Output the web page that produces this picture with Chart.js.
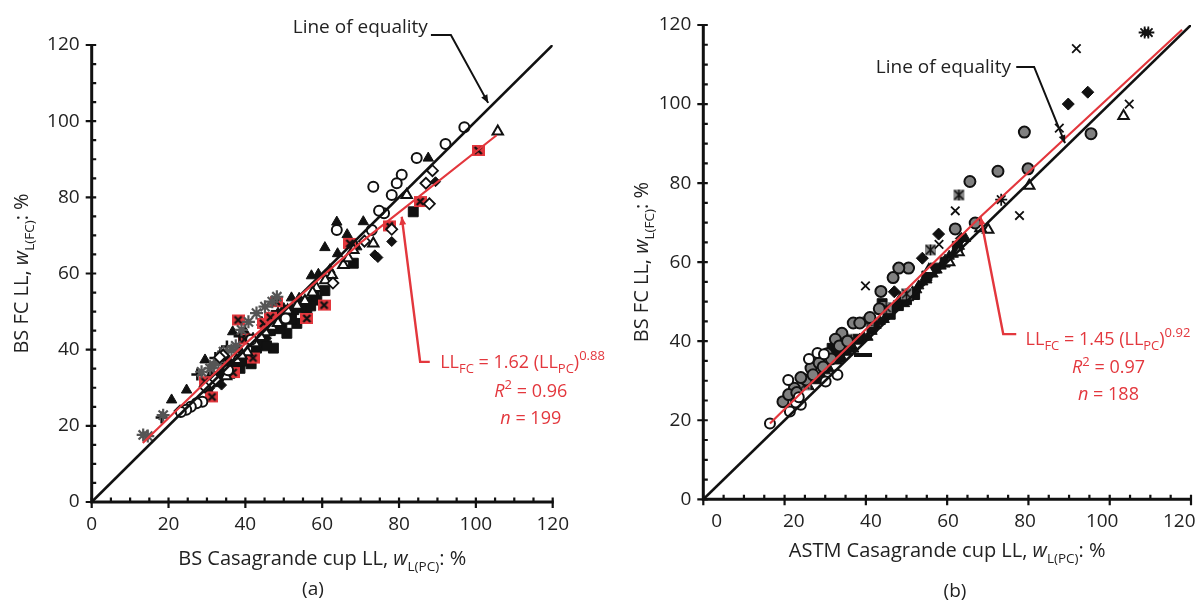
<!DOCTYPE html>
<html>
<head>
<meta charset="utf-8">
<script src="https://cdn.jsdelivr.net/npm/chart.js@4.4.1/dist/chart.umd.min.js"></script>
<style>
html, body { margin: 0; padding: 0; background: #fff; }
#wrap { position: relative; width: 1204px; height: 601px; overflow: hidden; background: #fff; }
#wrap canvas { position: absolute; top: 0; }
#chartA { left: 0; }
#chartB { left: 600px; }
</style>
</head>
<body>
<div id="wrap">
  <canvas id="chartA" width="640" height="601"></canvas>
  <canvas id="chartB" width="604" height="601"></canvas>
</div>
<script>
const FONT = '"Open Sans", "DejaVu Sans", sans-serif';
const INK = '#111';
const RED = '#e3373d';

const tickValues = [0, 20, 40, 60, 80, 100, 120];

// =========================
// PANEL (a) : BS cup (x) vs BS fall cone (y), [x, y]
// =========================
const aEquality = [[0, 0], [120, 120]];
const aFit = [[13.3, 15.5], [40, 41.6], [70, 68.1], [105.4, 96.3]];
const aCircleOpen = [[97.0, 98.4], [92.1, 94.0], [84.6, 90.3], [80.7, 85.9], [79.4, 83.7], [78.1, 80.6], [73.3, 82.8],
  [76.1, 75.8], [74.8, 76.5], [72.9, 71.4], [63.8, 71.4], [28.8, 26.3], [27.3, 25.9], [25.8, 25.0], [24.6, 24.2],
  [23.2, 23.6], [35.5, 34.6], [41.5, 42.6], [50.5, 48.2]];
const aTriFill = [[87.6, 90.3], [60.7, 66.8], [70.7, 73.6], [36.7, 44.7], [29.5, 37.3], [24.7, 29.4], [20.8, 26.8],
  [63.8, 73.5], [66.5, 70.2], [33.6, 39.0], [40.0, 44.5], [44.3, 47.2], [52.0, 53.6], [57.2, 59.4], [31.0, 33.5],
  [64.0, 65.2], [48.5, 49.6], [69.0, 67.0], [35.5, 37.5], [38.5, 40.0], [42.0, 43.0], [46.0, 47.5], [50.0, 50.8],
  [54.0, 53.5], [59.0, 59.8], [62.0, 61.0]];
const aTriOpen = [[105.7, 97.3], [82.0, 80.6], [73.3, 67.9], [68.1, 66.2], [65.5, 62.2], [62.5, 59.6], [60.8, 58.2],
  [37.7, 37.3], [42.5, 41.7], [46.9, 46.0], [35.0, 33.0], [40.5, 39.3], [51.0, 50.3], [58.5, 56.2], [66.8, 64.0],
  [45.2, 44.6], [55.5, 52.8], [39.0, 38.5], [44.0, 43.3], [48.5, 47.0], [53.5, 51.5], [57.5, 55.0]];
const aDiamondOpen = [[88.7, 87.0], [87.0, 83.7], [87.9, 78.3], [78.1, 71.6], [23.0, 23.9], [30.8, 31.0], [32.2, 32.2],
  [29.5, 30.2], [34.2, 38.5], [33.3, 38.0], [62.8, 57.5], [71.0, 68.5]];
const aDiamondFill = [[89.5, 84.1], [78.1, 68.4], [73.7, 64.9], [74.5, 64.2], [33.8, 30.7], [30.8, 30.0], [45.5, 43.0]];
const aSquareFill = [[83.7, 76.2], [68.1, 62.7], [60.7, 55.5], [57.9, 53.9], [56.0, 52.5], [54.2, 51.7], [52.6, 50.5],
  [50.8, 44.3], [53.4, 46.9], [56.0, 50.4], [58.6, 53.0], [47.3, 40.4], [42.9, 40.4], [38.6, 35.1], [36.0, 33.8],
  [32.5, 31.6], [30.2, 30.0], [34.5, 33.5], [40.5, 38.3], [44.5, 42.0], [46.5, 45.0], [49.5, 47.0], [48.0, 49.0],
  [51.0, 49.0], [41.5, 36.3], [37.5, 36.0], [39.5, 37.0], [43.5, 41.5], [45.5, 41.0], [49.0, 45.5], [52.0, 48.0],
  [55.0, 51.0], [57.0, 51.5], [33.0, 33.0], [35.0, 35.5]];
const aRedBox = [[100.6, 92.3], [67.2, 67.9], [60.5, 51.7], [56.0, 48.2], [38.1, 47.8], [31.3, 27.6], [29.5, 31.6],
  [44.7, 46.9], [48.1, 52.6], [85.5, 78.9], [77.5, 72.5], [46.5, 48.5], [39.8, 42.8], [42.0, 37.8], [36.8, 34.0]];
const aStar = [[13.4, 17.6], [14.6, 17.3], [18.6, 22.8], [28.6, 34.2], [30.8, 35.1], [33.0, 36.8], [34.3, 39.5],
  [36.4, 39.9], [39.0, 45.2], [40.8, 47.3], [42.9, 49.6], [45.1, 51.3], [48.2, 53.9], [31.8, 36.0], [37.5, 41.0],
  [47.0, 52.6]];
const aPlus = [[18.2, 22.2], [32.2, 37.8], [35.2, 40.8], [38.5, 43.5], [27.5, 33.5]];

// =========================
// PANEL (b) : ASTM cup (x) vs BS fall cone (y), [x, y]
// =========================
const bEquality = [[0, 0], [120, 120]];
const bFit = [[16.4, 19.2], [68.2, 71.5], [117.8, 118.8]];
const bCircleGray = [[79.0, 92.9], [95.4, 92.5], [72.5, 83.0], [79.9, 83.6], [65.6, 80.4], [62.0, 68.4], [66.9, 69.9],
  [50.5, 58.5], [48.1, 58.5], [46.7, 56.1], [43.7, 52.6], [43.3, 48.2], [36.9, 44.6], [34.1, 42.0], [26.5, 33.2],
  [25.3, 30.2], [22.4, 28.1], [19.6, 24.7], [28.5, 34.5], [30.5, 36.8], [32.5, 40.5], [38.5, 44.6], [41.0, 46.0],
  [24.0, 30.8], [27.0, 31.5], [21.0, 26.5], [29.5, 33.5], [31.5, 35.5], [33.5, 38.8], [35.5, 40.0], [23.0, 27.0]];
const bCircleOpen = [[16.4, 19.2], [20.9, 30.2], [21.3, 22.2], [24.0, 23.9], [22.8, 24.5], [28.1, 37.0], [29.7, 36.7],
  [30.1, 29.8], [33.0, 31.5], [26.0, 35.5], [23.5, 25.8]];
const bDiamondFill = [[94.6, 103.0], [89.8, 100.0], [57.9, 67.1], [53.9, 61.0], [47.0, 52.5], [63.5, 66.0]];
const bCross = [[91.8, 114.0], [104.8, 100.0], [87.6, 93.9], [77.8, 71.8], [62.0, 73.0], [39.9, 54.0], [58.0, 64.5]];
const bAsterisk = [[108.6, 118.1], [109.5, 118.1], [73.3, 75.8]];
const bTriOpen = [[103.4, 97.0], [80.2, 79.3], [70.1, 68.2], [68.2, 68.6], [60.5, 60.0], [55.5, 58.0], [62.8, 62.5]];
const bStarBox = [[62.9, 77.0], [55.9, 63.1], [35.5, 40.5], [45.0, 48.5], [40.5, 45.0], [25.0, 29.0], [50.0, 52.0]];
const bSquareFill = [[31.7, 38.2], [36.0, 39.5], [41.5, 43.5], [46.0, 46.8], [52.0, 51.8], [55.0, 56.5], [59.5, 60.0],
  [44.0, 49.5], [57.0, 58.5], [62.5, 64.0], [33.5, 36.0], [38.0, 40.5], [48.0, 49.0], [50.0, 50.5]];
const bTriFill = [[34.0, 36.0], [37.0, 38.0], [38.5, 40.5], [40.5, 41.0], [42.5, 44.0], [47.0, 48.5], [49.5, 49.5],
  [51.5, 52.5], [53.0, 54.0], [56.5, 57.0], [58.5, 59.0], [60.5, 61.5], [61.5, 62.0], [63.0, 64.0], [64.5, 66.0],
  [29.0, 31.5], [27.5, 30.0], [31.0, 33.0], [26.0, 28.5], [44.5, 45.5], [48.5, 51.0], [55.0, 55.5], [33.0, 35.0],
  [35.5, 37.2], [39.5, 41.0], [41.5, 42.5], [43.5, 45.0], [45.5, 47.0], [50.5, 51.0], [52.5, 53.0], [54.0, 55.0],
  [57.5, 58.0], [59.5, 60.5], [36.5, 39.0], [30.0, 32.5], [28.0, 30.5]];
const bDash = [[39.3, 36.5]];

// =========================
// helpers
// =========================
const pts = a => a.map(([x, y]) => ({x, y}));

function marker(size, draw) {
  const c = document.createElement('canvas');
  c.width = c.height = size;
  draw(c.getContext('2d'), size);
  return c;
}
const redBox = marker(13, (g, s) => {
  g.fillStyle = RED; g.fillRect(0, 1, s, s - 2);
  g.strokeStyle = INK; g.lineWidth = 2.4; g.beginPath();
  g.moveTo(3, 3); g.lineTo(s - 3, s - 3); g.moveTo(s - 3, 3); g.lineTo(3, s - 3); g.stroke();
});
const grayStarBox = marker(13, (g, s) => {
  g.fillStyle = '#8a8a8a'; g.fillRect(1, 1, s - 2, s - 2);
  g.strokeStyle = INK; g.lineWidth = 1.6; g.beginPath();
  g.moveTo(2, 2); g.lineTo(s - 2, s - 2); g.moveTo(s - 2, 2); g.lineTo(2, s - 2);
  g.moveTo(s / 2, 1); g.lineTo(s / 2, s - 1); g.stroke();
});

function series(data, style) {
  return Object.assign({data: pts(data), showLine: false, order: 3, xAxisID: 'x', yAxisID: 'y'}, style);
}
function line(data, color, width, order) {
  return {data: pts(data), showLine: true, borderColor: color, borderWidth: width, pointRadius: 0,
    order, xAxisID: 'x', yAxisID: 'y'};
}

// text made of runs: [text, kind] kind = n | i | sub | sup
function richText(ctx, x, y, runs, align, size, small) {
  const parts = runs.map(([t, k]) => {
    const sz = (k === 'sub' || k === 'sup') ? small : size;
    const font = (k === 'i' ? 'italic ' : '') + sz + 'px ' + FONT;
    ctx.font = font;
    const w = ctx.measureText(t).width;
    return {t, font, w, dy: k === 'sub' ? size * 0.3 : k === 'sup' ? -size * 0.42 : 0};
  });
  const total = parts.reduce((s, p) => s + p.w, 0);
  let cx = align === 'center' ? x - total / 2 : align === 'right' ? x - total : x;
  ctx.textAlign = 'left';
  ctx.textBaseline = 'alphabetic';
  parts.forEach(p => { ctx.font = p.font; ctx.fillText(p.t, cx, y + p.dy); cx += p.w; });
}

function arrowHead(ctx, from, to, len, half) {
  const a = Math.atan2(to[1] - from[1], to[0] - from[0]);
  ctx.beginPath();
  ctx.moveTo(to[0], to[1]);
  ctx.lineTo(to[0] - len * Math.cos(a) + half * Math.sin(a), to[1] - len * Math.sin(a) - half * Math.cos(a));
  ctx.lineTo(to[0] - len * Math.cos(a) - half * Math.sin(a), to[1] - len * Math.sin(a) + half * Math.cos(a));
  ctx.closePath();
  ctx.fill();
}

function leader(ctx, P, path, color, width) {
  const p = path.map(P);
  ctx.strokeStyle = color; ctx.fillStyle = color; ctx.lineWidth = width;
  ctx.lineJoin = 'miter';
  ctx.beginPath();
  p.forEach((q, i) => i ? ctx.lineTo(q[0], q[1]) : ctx.moveTo(q[0], q[1]));
  ctx.stroke();
  arrowHead(ctx, p[p.length - 2], p[p.length - 1], 8, 3.5);
}

const decor = {
  id: 'decor',
  afterDraw(chart, args, o) {
    const {ctx, chartArea: ca, scales: {x, y}} = chart;
    const P = p => [x.getPixelForValue(p[0]), y.getPixelForValue(p[1])];
    ctx.save();

    // axes and ticks
    ctx.strokeStyle = INK; ctx.lineCap = 'butt';
    ctx.lineWidth = 3;
    ctx.beginPath();
    ctx.moveTo(ca.left, ca.top - 1); ctx.lineTo(ca.left, ca.bottom + 1.5);
    ctx.moveTo(ca.left - 1.5, ca.bottom); ctx.lineTo(ca.right + 1, ca.bottom);
    ctx.stroke();
    ctx.lineWidth = 2.2;
    ctx.beginPath();
    for (let v = 0; v <= 120; v += 5) {
      const major = v % 20 === 0;
      const px = x.getPixelForValue(v), py = y.getPixelForValue(v);
      ctx.moveTo(px, ca.bottom + (major ? 6 : 0)); ctx.lineTo(px, ca.bottom - 4.5);
      ctx.moveTo(ca.left - (major ? 6 : 0), py); ctx.lineTo(ca.left + 4.5, py);
    }
    ctx.stroke();

    // line of equality label
    ctx.fillStyle = '#222';
    richText(ctx, P(o.eqText)[0], P(o.eqText)[1], [['Line of equality', 'n']], 'right', 19, 13);
    leader(ctx, P, o.eqLeader, INK, 2);

    // fitted relation
    leader(ctx, P, o.fitLeader, RED, 2.4);
    ctx.fillStyle = RED;
    o.fitText.forEach(t => {
      const q = P(t.at);
      richText(ctx, q[0], q[1], t.runs, t.align, 18, 13);
    });

    // axis titles
    ctx.fillStyle = '#222';
    richText(ctx, (ca.left + ca.right) / 2, o.xTitleY, o.xTitle, 'center', 20, 13.5);
    ctx.save();
    ctx.translate(ca.left + o.yTitleDx, (ca.top + ca.bottom) / 2);
    ctx.rotate(-Math.PI / 2);
    richText(ctx, 0, 0, [['BS FC LL, ', 'n'], ['w', 'i'], ['L(FC)', 'sub'], [': %', 'n']], 'center', 20, 13.5);
    ctx.restore();
    richText(ctx, o.panel.x, o.panel.y, [[o.panel.text, 'n']], 'center', 19, 13);

    ctx.restore();
  }
};

const tickFont = {family: FONT, size: 19};
function yScale(width) {
  return {
    type: 'linear', min: 0, max: 120,
    grid: {display: false, drawTicks: false}, border: {display: false},
    afterBuildTicks: s => { s.ticks = tickValues.map(v => ({value: v})); },
    ticks: {color: '#222', font: tickFont, padding: 12},
    afterFit: s => { s.width = width; s.paddingTop = 0; s.paddingBottom = 0; }
  };
}
function xScale(min, max, height, showLabels) {
  return {
    type: 'linear', axis: 'x', position: 'bottom', min, max,
    grid: {display: false, drawTicks: false}, border: {display: false},
    afterBuildTicks: s => { s.ticks = tickValues.map(v => ({value: v})); },
    ticks: {display: showLabels, color: '#222', font: tickFont, padding: 11},
    afterFit: s => { s.height = height; s.paddingLeft = 0; s.paddingRight = 0; }
  };
}

const baseOptions = {
  responsive: false,
  animation: false,
  events: [],
  plugins: {legend: {display: false}, tooltip: {enabled: false}}
};

// =========================
// CHART (a)
// =========================
new Chart(document.getElementById('chartA'), {
  type: 'scatter',
  data: {datasets: [
    line(aFit, RED, 2.2, 0),
    line(aEquality, INK, 2.6, 1),
    series(aCircleOpen, {pointStyle: 'circle', pointRadius: 5, backgroundColor: '#fff', borderColor: INK, borderWidth: 2}),
    series(aDiamondOpen, {pointStyle: 'rectRot', pointRadius: 5.5, backgroundColor: '#fff', borderColor: INK, borderWidth: 1.8}),
    series(aTriOpen, {pointStyle: 'triangle', pointRadius: 6, backgroundColor: '#fff', borderColor: INK, borderWidth: 2}),
    series(aStar, {pointStyle: 'star', pointRadius: 6.5, borderColor: '#555', borderWidth: 2.2}),
    series(aPlus, {pointStyle: 'cross', pointRadius: 6, borderColor: INK, borderWidth: 2.5}),
    series(aRedBox, {pointStyle: redBox}),
    series(aSquareFill, {pointStyle: 'rect', pointRadius: 7, backgroundColor: INK, borderColor: INK, borderWidth: 1}),
    series(aDiamondFill, {pointStyle: 'rectRot', pointRadius: 5, backgroundColor: INK, borderColor: INK, borderWidth: 1}),
    series(aTriFill, {pointStyle: 'triangle', pointRadius: 6, backgroundColor: INK, borderColor: INK, borderWidth: 1})
  ]},
  options: Object.assign({}, baseOptions, {
    layout: {padding: {left: 0, right: 87.3, top: 45, bottom: 0}},
    scales: {x: xScale(0, 120, 99, true), y: yScale(91.7)},
    plugins: Object.assign({}, baseOptions.plugins, {decor: {
      eqText: [87.5, 123.2],
      eqLeader: [[88.3, 122.6], [93.5, 122.6], [103.2, 104.8]],
      fitLeader: [[88.0, 36.8], [85.5, 36.8], [80.7, 74.9]],
      fitText: [
        {at: [90.7, 35.3], align: 'left', runs: [['LL', 'n'], ['FC', 'sub'], [' = 1.62 (LL', 'n'], ['PC', 'sub'], [')', 'n'], ['0.88', 'sup']]},
        {at: [114.3, 27.6], align: 'center', runs: [['R', 'i'], ['2', 'sup'], [' = 0.96', 'n']]},
        {at: [114.3, 20.5], align: 'center', runs: [['n', 'i'], [' = 199', 'n']]}
      ],
      xTitle: [['BS Casagrande cup LL, ', 'n'], ['w', 'i'], ['L(PC)', 'sub'], [': %', 'n']],
      xTitleY: 565,
      yTitleDx: -63.5,
      panel: {text: '(a)', x: 313, y: 595}
    }})
  }),
  plugins: [decor]
});

// =========================
// CHART (b)
// =========================
new Chart(document.getElementById('chartB'), {
  type: 'scatter',
  data: {datasets: [
    line(bFit, RED, 2.2, 0),
    line(bEquality, INK, 2.6, 1),
    series(bCircleOpen, {pointStyle: 'circle', pointRadius: 5, backgroundColor: '#fff', borderColor: INK, borderWidth: 2}),
    series(bCircleGray, {pointStyle: 'circle', pointRadius: 5.5, backgroundColor: '#808080', borderColor: INK, borderWidth: 2}),
    series(bTriOpen, {pointStyle: 'triangle', pointRadius: 6, backgroundColor: '#fff', borderColor: INK, borderWidth: 2}),
    series(bCross, {pointStyle: 'crossRot', pointRadius: 6, borderColor: INK, borderWidth: 1.8}),
    series(bAsterisk, {pointStyle: 'star', pointRadius: 6, borderColor: INK, borderWidth: 1.8}),
    series(bStarBox, {pointStyle: grayStarBox}),
    series(bSquareFill, {pointStyle: 'rect', pointRadius: 7, backgroundColor: INK, borderColor: INK, borderWidth: 1}),
    series(bTriFill, {pointStyle: 'triangle', pointRadius: 6, backgroundColor: INK, borderColor: INK, borderWidth: 1}),
    series(bDiamondFill, {pointStyle: 'rectRot', pointRadius: 6, backgroundColor: INK, borderColor: INK, borderWidth: 1}),
    series(bDash, {pointStyle: 'line', pointRadius: 9, borderColor: INK, borderWidth: 4})
  ]},
  options: Object.assign({}, baseOptions, {
    layout: {padding: {left: 0, right: 2, top: 25, bottom: 0}},
    scales: {
      x: xScale(0, 120, 0, false),
      xl: xScale(-3.48, 123.04, 101.7, true),
      y: yScale(103.3)
    },
    plugins: Object.assign({}, baseOptions.plugins, {decor: {
      eqText: [75.7, 107.9],
      eqLeader: [[77.0, 109.4], [81.4, 109.4], [89.0, 90.1]],
      fitLeader: [[77.0, 41.8], [73.8, 41.8], [68.2, 71.5]],
      fitText: [
        {at: [79.3, 39.1], align: 'left', runs: [['LL', 'n'], ['FC', 'sub'], [' = 1.45 (LL', 'n'], ['PC', 'sub'], [')', 'n'], ['0.92', 'sup']]},
        {at: [99.7, 31.9], align: 'center', runs: [['R', 'i'], ['2', 'sup'], [' = 0.97', 'n']]},
        {at: [99.7, 25.1], align: 'center', runs: [['n', 'i'], [' = 188', 'n']]}
      ],
      xTitle: [['ASTM Casagrande cup LL, ', 'n'], ['w', 'i'], ['L(PC)', 'sub'], [': %', 'n']],
      xTitleY: 557,
      yTitleDx: -55,
      panel: {text: '(b)', x: 355, y: 597}
    }})
  }),
  plugins: [decor]
});
</script>
</body>
</html>
